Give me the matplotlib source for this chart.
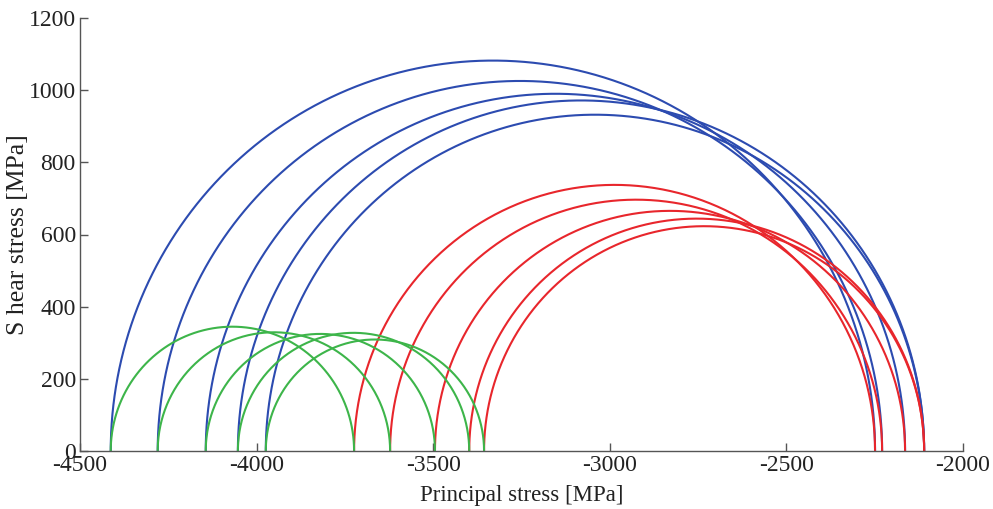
import numpy as np
import matplotlib
matplotlib.use("Agg")
import matplotlib.pyplot as plt

# Principal stresses for each state (MPa)
sigma_3 = [-4413, -4280, -4144, -4053, -3974]   # most compressive
sigma_2 = [-3724, -3622, -3495, -3398, -3356]   # intermediate
sigma_1 = [-2249, -2229, -2164, -2110, -2110]   # least compressive

blue = "#2C4BB0"
red = "#E8262C"
green = "#3DB54A"

x_ticks = [-4500, -4000, -3500, -3000, -2500, -2000]
y_ticks = [0, 200, 400, 600, 800, 1000, 1200]

plt.rcParams['font.family'] = ['Liberation Serif', 'DejaVu Serif']
plt.rcParams['axes.unicode_minus'] = False

fig = plt.figure(figsize=(9.93, 5.09), dpi=100)
ax = fig.add_axes([80/993, 1 - 451/509, (963-80)/993, (451-18)/509])

theta = np.linspace(0, np.pi, 400)

def semicircle(a, b, color):
    c = (a + b) / 2
    r = abs(b - a) / 2
    ax.plot(c + r*np.cos(theta), r*np.sin(theta), color=color, lw=1.5)

for s3, s2, s1 in zip(sigma_3, sigma_2, sigma_1):
    semicircle(s3, s1, blue)
for s3, s2, s1 in zip(sigma_3, sigma_2, sigma_1):
    semicircle(s2, s1, red)
for s3, s2, s1 in zip(sigma_3, sigma_2, sigma_1):
    semicircle(s3, s2, green)

ax.set_xlim(-4500, -2000)
ax.set_ylim(0, 1200)
ax.set_xticks(x_ticks)
ax.set_yticks(y_ticks)
ax.spines['top'].set_visible(False)
ax.spines['right'].set_visible(False)
for s in ['left', 'bottom']:
    ax.spines[s].set_color('#555555')
    ax.spines[s].set_linewidth(1.0)
ax.tick_params(direction='in', length=6, width=1, colors='#555555', labelcolor='#222222', labelsize=17)
ax.tick_params(axis='x', pad=3)
ax.tick_params(axis='y', pad=3)
ax.set_xlabel("Principal stress [MPa]", fontsize=16.5, color='#222222', labelpad=6)
ax.set_ylabel("S hear stress [MPa]", fontsize=18.5, color='#222222', labelpad=0)

fig.savefig("out.png", dpi=100)
